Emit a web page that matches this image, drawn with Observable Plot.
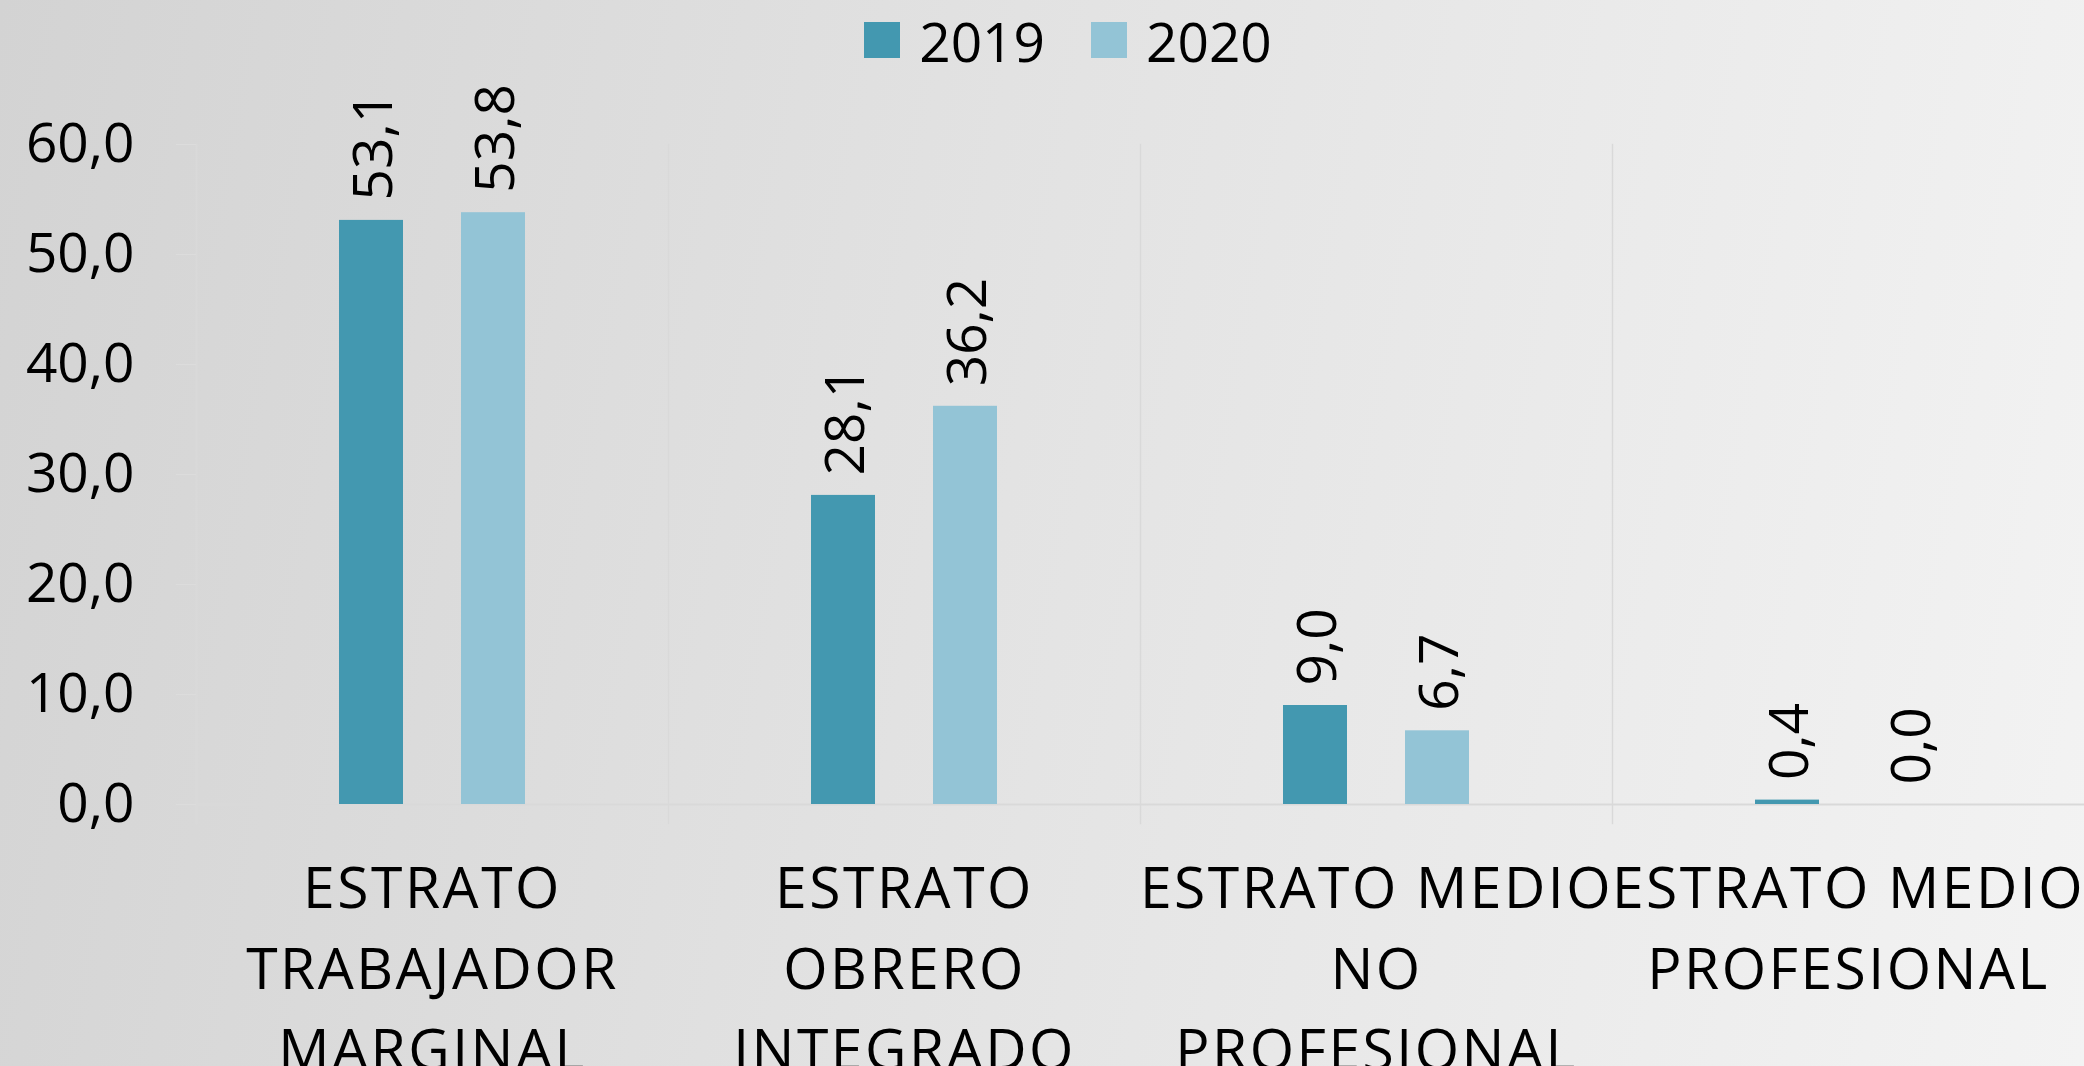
<!DOCTYPE html>
<html>
<head>
<meta charset="utf-8">
<script src="https://cdn.jsdelivr.net/npm/d3@7"></script>
<script src="https://cdn.jsdelivr.net/npm/@observablehq/plot@0.6"></script>
<style>
  html, body { margin: 0; padding: 0; }
  body {
    width: 2084px; height: 1066px; overflow: hidden;
    background: linear-gradient(100deg, #d3d3d3 0%, #e2e2e2 45%, #f3f3f3 100%);
    font-family: "Open Sans", sans-serif;
  }
  #legend {
    height: 80px; display: flex; align-items: center; justify-content: center;
    padding-left: 52px; box-sizing: border-box;
  }
  .item { display: flex; align-items: center; margin: 0 23px; }
  .sw { width: 36px; height: 36px; margin-right: 19px; }
  .lt { font-size: 55px; color: #000; line-height: 1; }
  #chart svg { display: block; overflow: visible; }
  .xlab text, g.xlab, .xlab { letter-spacing: 2.5px; }
</style>
</head>
<body>
<div id="legend"></div>
<div id="chart"></div>
<script>
const categories = [
  "ESTRATO TRABAJADOR MARGINAL",
  "ESTRATO OBRERO INTEGRADO",
  "ESTRATO MEDIO NO PROFESIONAL",
  "ESTRATO MEDIO PROFESIONAL"
];
const categoryLabels = [
  "ESTRATO\nTRABAJADOR\nMARGINAL",
  "ESTRATO\nOBRERO\nINTEGRADO",
  "ESTRATO MEDIO\nNO\nPROFESIONAL",
  "ESTRATO MEDIO\nPROFESIONAL"
];
const years = ["2019", "2020"];
const values2019 = [53.1, 28.1, 9.0, 0.4];
const values2020 = [53.8, 36.2, 6.7, 0.0];
const yTicks = [0, 10, 20, 30, 40, 50, 60];
const colors = ["#4398b0", "#93c4d6"];

const data = [];
categories.forEach((c, i) => {
  data.push({cat: c, year: years[0], value: values2019[i]});
  data.push({cat: c, year: years[1], value: values2020[i]});
});

const fmt = v => v.toFixed(1).replace(".", ",");

// legend
const legend = document.getElementById("legend");
years.forEach((y, i) => {
  const it = document.createElement("div");
  it.className = "item";
  it.innerHTML = `<div class="sw" style="background:${colors[i]}"></div><div class="lt">${y}</div>`;
  legend.appendChild(it);
});

const W = 2084, H = 986, ML = 195, MR = 0, MT = 64, MB = 262;

const chart = Plot.plot({
  width: W,
  height: H,
  marginLeft: ML,
  marginRight: MR,
  marginTop: MT,
  marginBottom: MB,
  style: {fontFamily: "Open Sans", fontSize: "55px", background: "transparent", color: "#000"},
  fx: {domain: categories, padding: 0, axis: null},
  x: {domain: years, paddingInner: 0.475, paddingOuter: 1.17, axis: null},
  y: {domain: [0, 60], axis: null},
  color: {domain: years, range: colors},
  marks: [
    Plot.frame({anchor: "left", stroke: "#d9d9d9", strokeWidth: 1.5, insetBottom: -19}),
    Plot.ruleY([0], {stroke: "#d9d9d9", strokeWidth: 2}),
    Plot.axisY(yTicks, {
      tickSize: 20, tickPadding: 42, stroke: "#dcdcdc", label: null,
      tickFormat: fmt, fontSize: 55, fill: "#000"
    }),
    Plot.barY(data, {fx: "cat", x: "year", y: "value", fill: "year"}),
    Plot.text(data, {
      fx: "cat", x: "year", y: "value", text: d => fmt(d.value),
      rotate: -90, textAnchor: "start", dy: -20, dx: 3, fontSize: 55, fill: "#000"
    }),
    Plot.text(categories, {
      fx: d => d, text: (d, i) => categoryLabels[i],
      frameAnchor: "bottom", lineAnchor: "top", dy: 46, lineHeight: 1.42,
      fontSize: 57, fill: "#000", className: "xlab"
    })
  ]
});
document.getElementById("chart").appendChild(chart);
</script>
</body>
</html>
